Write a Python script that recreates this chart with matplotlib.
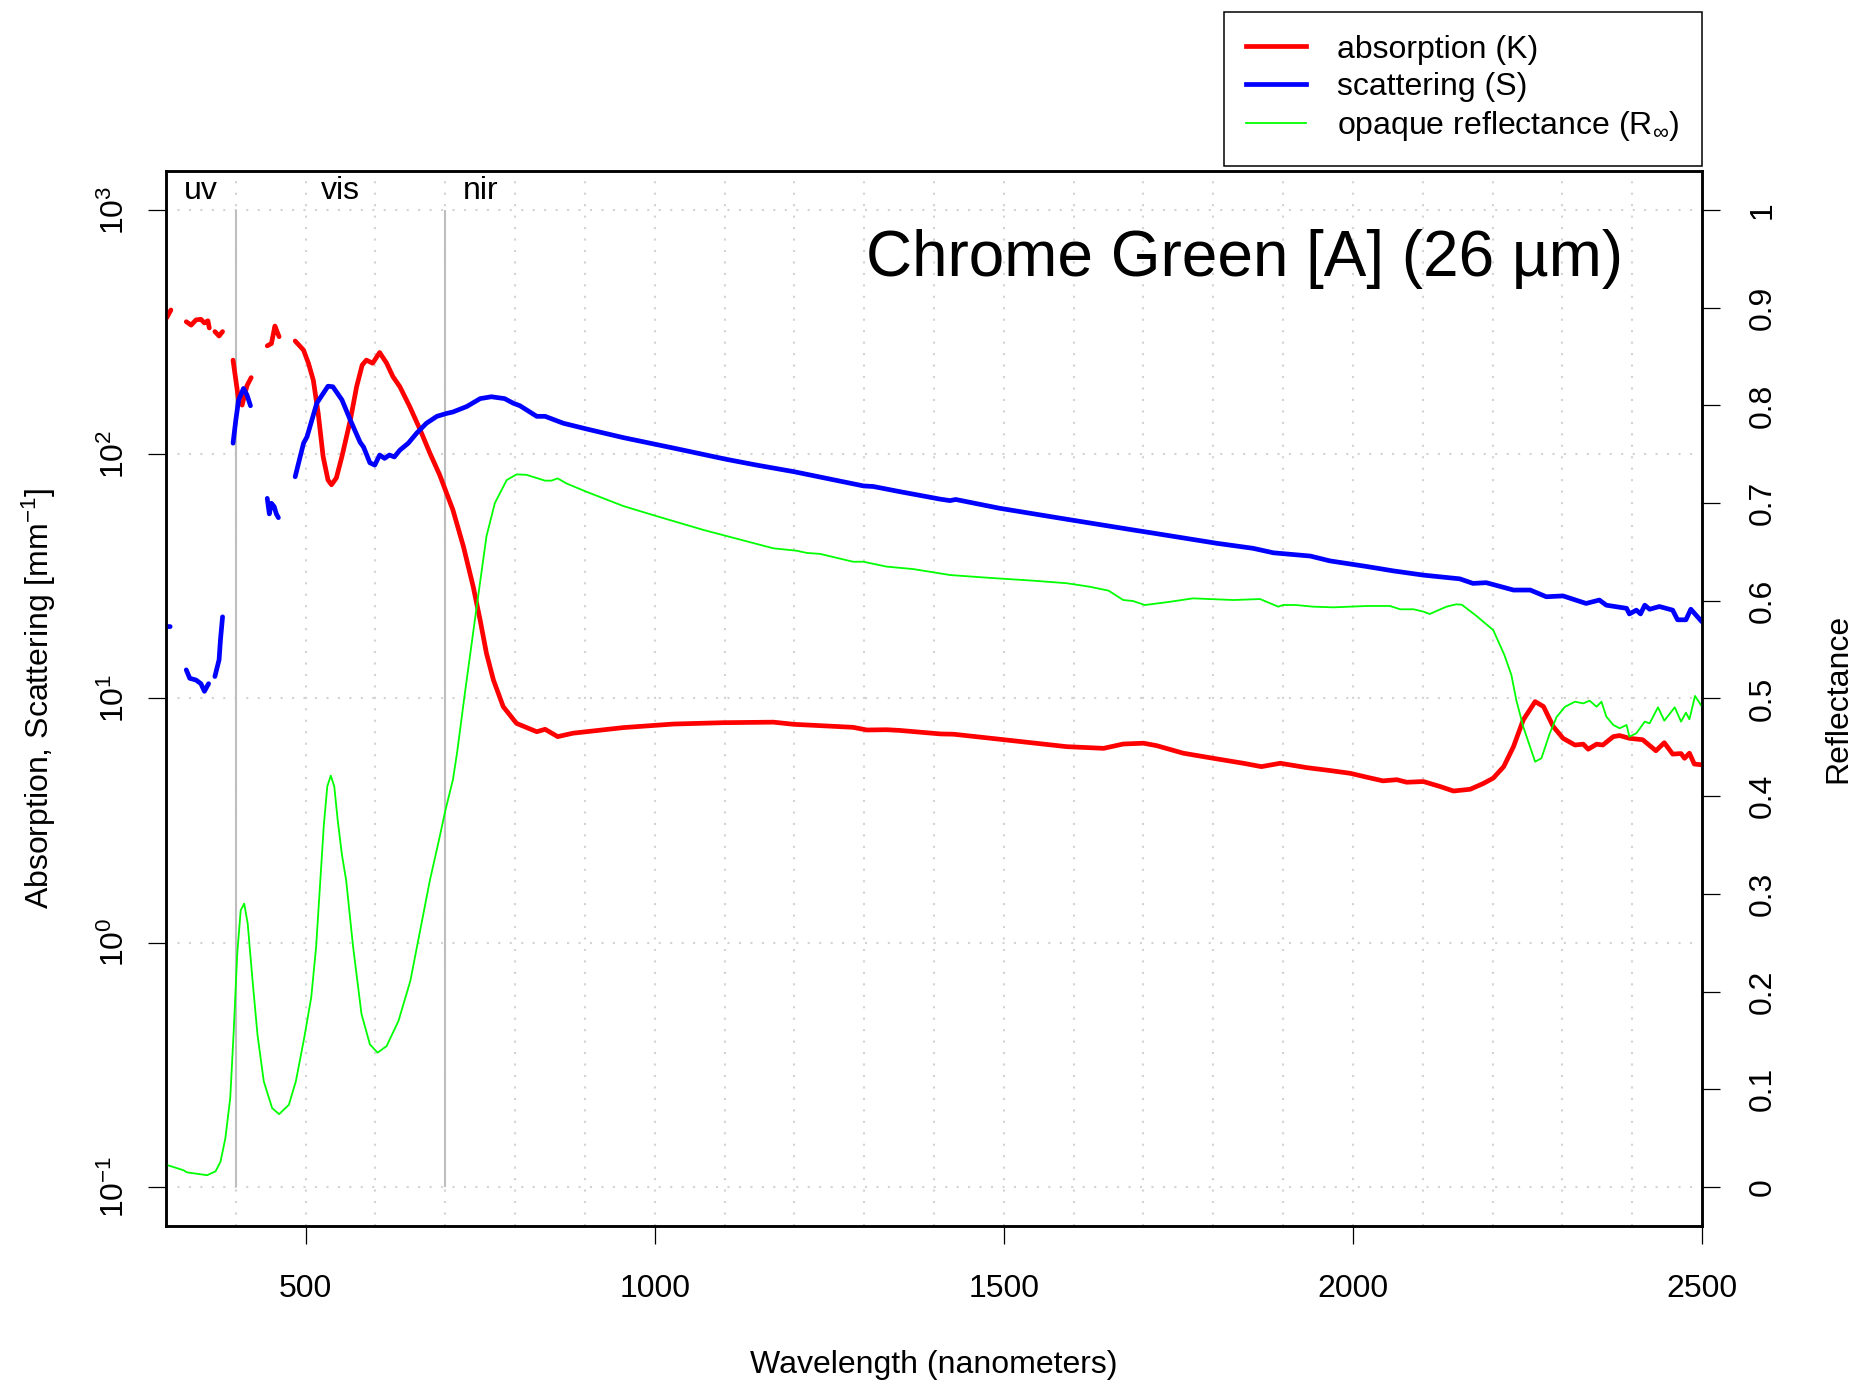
import numpy as np
import matplotlib
matplotlib.use('Agg')
import matplotlib.pyplot as plt
from matplotlib.ticker import FixedLocator, FixedFormatter, NullLocator
from matplotlib.lines import Line2D

plt.rcParams['font.family'] = ['Liberation Sans', 'DejaVu Sans']
plt.rcParams['mathtext.fontset'] = 'custom'
plt.rcParams['mathtext.rm'] = 'Liberation Sans'
plt.rcParams['mathtext.default'] = 'regular'

nan = np.nan

# absorption K (mm^-1), nan = gap in the measurement
k_wl = [301, 307, 318,
        329, 336, 343, 350, 355, 360, 362, 366,
        370, 376, 381, 388,
        396, 404, 409, 416, 422, 433,
        445, 451, 456, 460, 462, 473,
        485, 497, 504, 511, 518, 525, 532, 537, 544, 552,
        564, 573, 581, 587, 596, 606, 616, 625, 635, 649,
        664, 678, 692, 711, 726, 740, 750, 759, 769, 783,
        802, 831, 843, 861, 883, 955, 1027, 1098, 1170, 1199,
        1284, 1304, 1332, 1351, 1409, 1428, 1494, 1590, 1643, 1671,
        1700, 1719, 1757, 1800, 1843, 1869, 1896, 1934, 1967, 1996,
        2020, 2043, 2063, 2077, 2101, 2125, 2144, 2168, 2187, 2201,
        2216, 2230, 2244, 2261, 2273, 2287, 2301, 2318, 2330, 2337,
        2349, 2358, 2373, 2382, 2396, 2415, 2434, 2446, 2458, 2470,
        2475, 2482, 2489, 2500]
k_val = [362, 390, nan,
         349, 338, 355, 357, 345, 352, 329, nan,
         318, 305, 318, nan,
         243, 167, 159, 191, 206, nan,
         278, 284, 335, 313, 303, nan,
         291, 267, 236, 201, 147, 98, 78.5, 75, 80, 98,
         138, 189, 232, 243, 236, 261, 236, 208, 189, 157,
         126, 101, 82.3, 59.1, 41.9, 28.7, 20.9, 15.3, 11.9, 9.26,
         7.91, 7.31, 7.48, 6.98, 7.21, 7.6, 7.86, 7.96, 8.0, 7.84,
         7.62, 7.43, 7.45, 7.40, 7.16, 7.14, 6.81, 6.35, 6.25, 6.51,
         6.56, 6.41, 5.97, 5.69, 5.43, 5.26, 5.43, 5.21, 5.07, 4.94,
         4.76, 4.60, 4.65, 4.54, 4.57, 4.36, 4.18, 4.25, 4.49, 4.72,
         5.26, 6.35, 8.17, 9.71, 9.27, 7.67, 6.87, 6.45, 6.5, 6.2,
         6.5, 6.45, 6.98, 7.05, 6.87, 6.78, 6.11, 6.59, 5.92, 5.95,
         5.69, 5.97, 5.39, 5.35]

# scattering S (mm^-1)
s_wl = [300, 306, 317,
        329, 334, 343, 350, 355, 361, 366,
        370, 376, 378, 381, 388,
        396, 400, 404, 411, 416, 421, 433,
        445, 448, 451, 455, 458, 461, 473,
        485, 497, 502, 516, 532, 539, 552, 564, 578, 583,
        592, 599, 606, 613, 620, 627, 635, 647, 659, 673,
        688, 702, 711, 731, 750, 766, 785, 797, 807, 831,
        843, 869, 902, 955, 1027, 1103, 1146, 1199, 1299, 1313,
        1351, 1409, 1423, 1431, 1494, 1590, 1685, 1709, 1805, 1857,
        1886, 1939, 1967, 2020, 2058, 2101, 2153, 2172, 2191, 2230,
        2254, 2277, 2301, 2334, 2353, 2363, 2392, 2396, 2406, 2412,
        2418, 2425, 2439, 2458, 2465, 2477, 2484, 2500]
s_val = [19.7, 19.7, nan,
         13.1, 12.1, 11.9, 11.5, 10.7, 11.5, nan,
         12.3, 14.4, 17.4, 21.6, nan,
         111, 138, 167, 186, 175, 158, nan,
         66, 57, 63, 61, 57, 55, nan,
         80.9, 111, 118, 162, 190, 189, 167, 138, 112, 107,
         92.3, 90.3, 99.3, 96.2, 99.3, 97.5, 104, 111, 122, 134,
         143, 147, 149, 157, 169, 172, 169, 162, 158, 143,
         143, 134, 127, 117, 106, 95.3, 90.3, 84.9, 74.2, 73.8,
         70.3, 65.5, 64.6, 65.3, 60.1, 54.2, 49.0, 47.8, 43.2, 41.2,
         39.5, 38.3, 36.6, 34.7, 33.3, 32.0, 30.9, 29.6, 29.8, 27.8,
         27.8, 26.1, 26.3, 24.5, 25.3, 24.1, 23.4, 22.2, 23.0, 22.2,
         24.1, 23.2, 23.8, 23.0, 21.0, 21.0, 23.2, 20.6]

# opaque reflectance R_inf
r_wl = [300, 302, 325, 330, 359, 371, 378, 385, 392, 397,
        402, 407, 412, 417, 424, 431, 440, 452, 462, 476,
        486, 498, 508, 515, 521, 526, 531, 536, 541, 546,
        552, 558, 568, 580, 592, 603, 616, 633, 650, 664,
        678, 690, 700, 711, 717, 723, 728, 745, 759, 771,
        788, 802, 816, 843, 852, 861, 874, 902, 955, 1002,
        1041, 1070, 1103, 1136, 1170, 1203, 1218, 1237, 1284, 1299,
        1332, 1370, 1409, 1423, 1475, 1542, 1590, 1623, 1650, 1671,
        1685, 1702, 1733, 1771, 1829, 1867, 1893, 1900, 1918, 1943,
        1972, 2020, 2053, 2068, 2087, 2101, 2110, 2134, 2148, 2156,
        2177, 2201, 2217, 2227, 2234, 2244, 2261, 2270, 2282, 2292,
        2304, 2318, 2330, 2339, 2349, 2356, 2363, 2373, 2382, 2392,
        2396, 2406, 2418, 2425, 2437, 2446, 2461, 2470, 2477, 2482,
        2490, 2500]
r_val = [0.0245, 0.0223, 0.0171, 0.0149, 0.012, 0.016, 0.0257, 0.0497, 0.091, 0.1597,
         0.2387, 0.2833, 0.290, 0.2696, 0.211, 0.156, 0.1082, 0.0807, 0.0745, 0.0841,
         0.1082, 0.1528, 0.194, 0.2456, 0.314, 0.37, 0.41, 0.421, 0.41, 0.375,
         0.34, 0.314, 0.2456, 0.177, 0.146, 0.1374, 0.1442, 0.170, 0.211, 0.2627,
         0.314, 0.352, 0.385, 0.417, 0.445, 0.478, 0.505, 0.594, 0.666, 0.700,
         0.7236, 0.7294, 0.729, 0.723, 0.723, 0.7253, 0.720, 0.7117, 0.697, 0.6868,
         0.6786, 0.6725, 0.6663, 0.660, 0.6537, 0.6513, 0.649, 0.648, 0.640, 0.640,
         0.635, 0.6325, 0.628, 0.6264, 0.6237, 0.6206, 0.618, 0.6144, 0.6104, 0.6008,
         0.5998, 0.5957, 0.5985, 0.6025, 0.6008, 0.6018, 0.594, 0.5957, 0.5957, 0.594,
         0.5933, 0.5947, 0.5947, 0.5913, 0.5913, 0.5889, 0.5865, 0.594, 0.5964, 0.596,
         0.5845, 0.570, 0.5445, 0.524, 0.4985, 0.471, 0.4353, 0.4388, 0.4644, 0.4814,
         0.4916, 0.4967, 0.4950, 0.4978, 0.4916, 0.4967, 0.4814, 0.4729, 0.4695, 0.4729,
         0.4609, 0.4644, 0.4763, 0.4746, 0.491, 0.4773, 0.491, 0.4763, 0.4855, 0.4787,
         0.5026, 0.4916]

region_names = ['uv', 'vis', 'nir']
region_label_x = [350, 550, 750]
region_bounds = [400, 700]
log_ticks = [0.1, 1, 10, 100, 1000]
log_labels = [r'$10^{-1}$', r'$10^{0}$', r'$10^{1}$', r'$10^{2}$', r'$10^{3}$']
refl_ticks = [0, 0.1, 0.2, 0.3, 0.4, 0.5, 0.6, 0.7, 0.8, 0.9, 1]
refl_labels = ['0', '0.1', '0.2', '0.3', '0.4', '0.5', '0.6', '0.7', '0.8', '0.9', '1']
x_ticks = [500, 1000, 1500, 2000, 2500]

fs = 23
fig = plt.figure(figsize=(18.6, 13.82), dpi=100)
ax = fig.add_axes([0.08925, 0.11288, 0.8258, 0.7634])
ax.set_yscale('log')
ax.set_xlim(300, 2500)
ax.set_ylim(10 ** -1.16, 10 ** 3.16)

# dotted grid every 100 nm and every decade
for gx in range(300, 2501, 100):
    ax.axvline(gx, color='#d3d3d3', lw=1.5, ls=(0, (1, 4.5)), zorder=0)
for gy in log_ticks:
    ax.axhline(gy, color='#d3d3d3', lw=1.5, ls=(0, (1, 4.5)), zorder=0)

ax.vlines(region_bounds, log_ticks[0], log_ticks[-1], color='#bebebe', lw=1.5, zorder=1)

ax.plot(k_wl, k_val, color='#ff0000', lw=3.4, solid_capstyle='round', solid_joinstyle='round', zorder=3)
ax.plot(s_wl, s_val, color='#0000ff', lw=3.4, solid_capstyle='round', solid_joinstyle='round', zorder=3)

ax2 = ax.twinx()
ax2.set_ylim(-0.04, 1.04)
ax2.plot(r_wl, r_val, color='#00ff00', lw=1.3, solid_joinstyle='round')

ax.yaxis.set_major_locator(FixedLocator(log_ticks))
ax.yaxis.set_major_formatter(FixedFormatter(log_labels))
ax.yaxis.set_minor_locator(NullLocator())
ax.set_xticks(x_ticks)
ax2.set_yticks(refl_ticks)
ax2.set_yticklabels(refl_labels)

for a in (ax, ax2):
    for sp in a.spines.values():
        sp.set_linewidth(1.8)
ax.tick_params(axis='x', length=13, width=0.9, labelsize=fs, pad=21.5)
ax.tick_params(axis='y', length=13, width=0.9, labelsize=fs, pad=12, labelrotation=90)
ax2.tick_params(axis='y', length=13, width=0.9, labelsize=fs, pad=20, labelrotation=90)
for t in ax.get_yticklabels():
    t.set_va('center')
for t in ax2.get_yticklabels():
    t.set_va('center')

ax.set_xlabel('Wavelength (nanometers)', fontsize=fs, labelpad=33)
ax.set_ylabel(r'Absorption, Scattering [mm$^{-1}$]', fontsize=fs, labelpad=30)
ax2.set_ylabel('Reflectance', fontsize=fs, labelpad=33)

for name, x in zip(region_names, region_label_x):
    ax.text(x, 0.973, name, transform=ax.get_xaxis_transform(), ha='center', va='baseline', fontsize=fs)

ax.text(0.9486, 0.900, 'Chrome Green [A] (26 µm)', transform=ax.transAxes,
        ha='right', va='baseline', fontsize=46)

handles = [Line2D([], [], color='#ff0000', lw=3.4),
           Line2D([], [], color='#0000ff', lw=3.4),
           Line2D([], [], color='#00ff00', lw=1.3)]
labels = ['absorption (K)', 'scattering (S)', r'opaque reflectance (R$_{\infty}$)']
leg = ax2.legend(handles, labels, loc='upper right', bbox_to_anchor=(1702 / 1860, 1 - 12 / 1382),
                 bbox_transform=fig.transFigure, borderaxespad=0, fontsize=fs,
                 frameon=True, fancybox=False, framealpha=1, edgecolor='black',
                 handlelength=1.88, handletextpad=0.95, labelspacing=0.226, borderpad=0.71)
leg.get_frame().set_linewidth(1.1)

fig.savefig('out.png', dpi=100)
